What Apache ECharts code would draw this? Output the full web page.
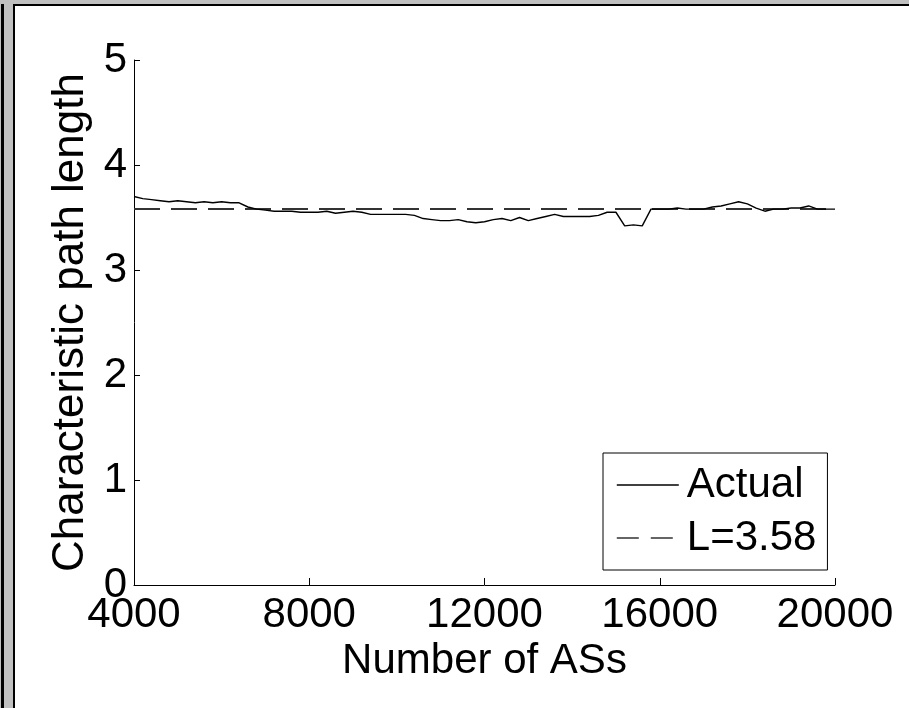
<!DOCTYPE html>
<html>
<head>
<meta charset="utf-8">
<script src="https://cdn.jsdelivr.net/npm/echarts@6/dist/echarts.min.js"></script>
<style>
  body { margin: 0; background: #c0c0c0; }
  .frame-line { position: absolute; left: 1px; top: 4px; width: 3px; height: 704px; background: #000; }
  .panel { position: absolute; left: 13px; top: 4px; width: 894px; height: 702px;
           border-left: 2px solid #000; border-top: 2px solid #000; background: #fff; }
  #chart { position: absolute; left: 0; top: 0; width: 909px; height: 708px; }
</style>
</head>
<body>
<div class="frame-line"></div>
<div class="panel"></div>
<div id="chart"></div>
<script>
  // number of ASs (x) and characteristic path length (y)
  const numASs = [
    4000, 4200, 4400, 4600, 4800, 5000, 5200, 5400, 5600, 5800,
    6000, 6200, 6400, 6600, 6800, 7000, 7200, 7400, 7600, 7800,
    8000, 8200, 8400, 8600, 8800, 9000, 9200, 9400, 9600, 9800,
    10000, 10200, 10400, 10600, 10800, 11000, 11200, 11400, 11600, 11800,
    12000, 12200, 12400, 12600, 12800, 13000, 13200, 13400, 13600, 13800,
    14000, 14200, 14400, 14600, 14800, 15000, 15200, 15400, 15600, 15800,
    16000, 16200, 16400, 16600, 16800, 17000, 17200, 17400, 17600, 17800,
    18000, 18200, 18400, 18600, 18800, 19000, 19200, 19400, 19600, 19800,
    20000
  ]
  const actual = [
    3.70, 3.68, 3.67, 3.66, 3.65, 3.66, 3.65, 3.64, 3.65, 3.64,
    3.65, 3.64, 3.64, 3.60, 3.58, 3.57, 3.56, 3.56, 3.56, 3.55,
    3.55, 3.55, 3.56, 3.54, 3.55, 3.56, 3.55, 3.53, 3.53, 3.53,
    3.53, 3.53, 3.52, 3.49, 3.48, 3.47, 3.47, 3.48, 3.46, 3.45,
    3.46, 3.48, 3.49, 3.47, 3.50, 3.47, 3.49, 3.51, 3.53, 3.51,
    3.51, 3.51, 3.51, 3.52, 3.55, 3.55, 3.42, 3.43, 3.42, 3.58,
    3.58, 3.58, 3.59, 3.58, 3.58, 3.58, 3.60, 3.61, 3.63, 3.65,
    3.63, 3.59, 3.56, 3.58, 3.58, 3.59, 3.59, 3.61, 3.58, 3.58,
    3.58
  ]
  const refX = [4000, 20000]
  const refL = [3.58, 3.58]
  const xTicks = [4000, 8000, 12000, 16000, 20000]
  const yTicks = [0, 1, 2, 3, 4, 5]

  const font = '"Liberation Sans", Arial, sans-serif'
  const chart = echarts.init(document.getElementById('chart'))
  const option = {
    animation: false,
    textStyle: { fontFamily: font },
    grid: { left: 134, right: 74, top: 60, bottom: 123, containLabel: false },
    legend: {
      orient: 'vertical',
      left: 603,
      top: 453,
      padding: [11, 11, 11, 13],
      itemGap: 11,
      itemWidth: 62,
      itemHeight: 20,
      backgroundColor: '#fff',
      borderColor: '#000',
      borderWidth: 1,
      borderRadius: 0,
      itemStyle: { opacity: 0 },
      textStyle: { color: '#000', fontSize: 42, fontFamily: font, padding: [0, 0, 0, 3] },
      data: [
        { name: 'Actual', lineStyle: { color: '#000', width: 1.4, type: 'solid' } },
        { name: 'L=3.58', lineStyle: { color: '#333', width: 1.6, type: [22, 12] } },
      ],
    },
    xAxis: {
      type: 'value',
      min: xTicks[0],
      max: xTicks[xTicks.length - 1],
      interval: 4000,
      name: 'Number of ASs',
      nameLocation: 'middle',
      nameGap: 52,
      nameTextStyle: { color: '#000', fontSize: 42, fontFamily: font },
      axisLine: { lineStyle: { color: '#000', width: 1 } },
      axisTick: { inside: true, length: 7, lineStyle: { color: '#000' } },
      axisLabel: { color: '#000', fontSize: 42, fontFamily: font, margin: 9, formatter: v => String(v) },
      splitLine: { show: false },
    },
    yAxis: {
      type: 'value',
      min: yTicks[0],
      max: yTicks[yTicks.length - 1],
      interval: 1,
      name: 'Characteristic path length',
      nameLocation: 'middle',
      nameGap: 40,
      nameRotate: 90,
      nameTextStyle: { color: '#000', fontSize: 44, fontFamily: font },
      axisLine: { show: true, lineStyle: { color: '#000', width: 1 } },
      axisTick: { show: true, inside: true, length: 6, lineStyle: { color: '#000' } },
      axisLabel: { color: '#000', fontSize: 42, fontFamily: font, margin: 7 },
      splitLine: { show: false },
    },
    series: [
      {
        name: 'L=3.58',
        type: 'line',
        showSymbol: false,
        symbol: 'none',
        data: refX.map((x, i) => [x, refL[i]]),
        lineStyle: { color: '#333', width: 2, type: [26, 11] },
        itemStyle: { color: '#333' },
        z: 2,
      },
      {
        name: 'Actual',
        type: 'line',
        showSymbol: false,
        symbol: 'none',
        data: numASs.map((x, i) => [x, actual[i]]),
        lineStyle: { color: '#000', width: 1.4 },
        itemStyle: { color: '#000' },
        z: 3,
      },
    ],
  }
  chart.setOption(option)
</script>
</body>
</html>
